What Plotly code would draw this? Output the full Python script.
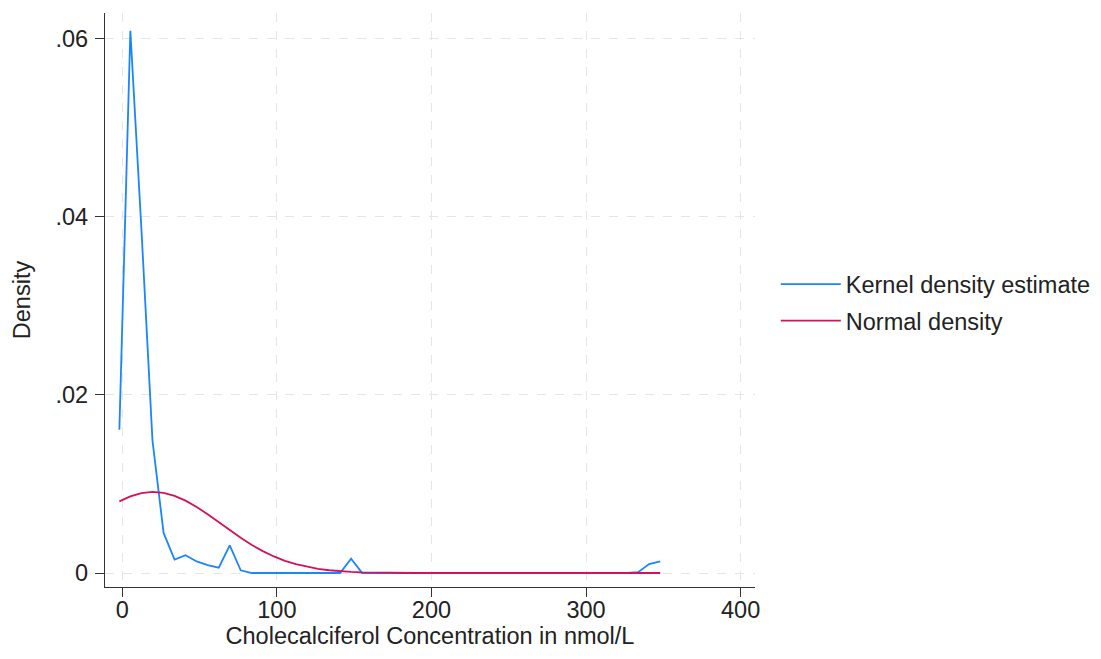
import plotly.graph_objects as go

# Evaluation grid (nmol/L)
x_grid = [-1.9, 5.2, 12.4, 19.5, 26.7, 33.8, 40.9, 48.1, 55.2, 62.4,
          69.5, 76.6, 83.8, 90.9, 98.1, 105.2, 112.3, 119.5, 126.6, 133.8,
          140.9, 148.0, 155.2, 162.3, 169.5, 176.6, 183.7, 190.9, 198.0, 205.2,
          212.3, 219.4, 226.6, 233.7, 240.9, 248.0, 255.1, 262.3, 269.4, 276.6,
          283.7, 290.8, 298.0, 305.1, 312.3, 319.4, 326.5, 333.7, 340.8, 348.0]

kde_density = [0.0161, 0.0609, 0.0385, 0.0149, 0.0045, 0.0015, 0.0020, 0.0013, 0.0009, 0.0006,
               0.0031, 0.0003, 0.0000, 0.0000, 0.0000, 0.0000, 0.0000, 0.0000, 0.0000, 0.0000,
               0.0000, 0.0016, 0.0000, 0.0000, 0.0000, 0.0000, 0.0000, 0.0000, 0.0000, 0.0000,
               0.0000, 0.0000, 0.0000, 0.0000, 0.0000, 0.0000, 0.0000, 0.0000, 0.0000, 0.0000,
               0.0000, 0.0000, 0.0000, 0.0000, 0.0000, 0.0000, 0.0000, 0.0001, 0.0010, 0.0013]

normal_density = [0.00804, 0.00860, 0.00897, 0.00911, 0.00900, 0.00867, 0.00813, 0.00742, 0.00660, 0.00570,
                  0.00481, 0.00395, 0.00315, 0.00246, 0.00186, 0.00137, 0.00099, 0.00069, 0.00047, 0.00031,
                  0.00020, 0.00013, 0.00008, 0.00005, 0.00003, 0.00002, 0.00001, 0.0, 0.0, 0.0,
                  0.0, 0.0, 0.0, 0.0, 0.0, 0.0, 0.0, 0.0, 0.0, 0.0,
                  0.0, 0.0, 0.0, 0.0, 0.0, 0.0, 0.0, 0.0, 0.0, 0.0]

series_names = ["Kernel density estimate", "Normal density"]
x_tick_vals = [0, 100, 200, 300, 400]
x_tick_text = ["0", "100", "200", "300", "400"]
y_tick_vals = [0, 0.02, 0.04, 0.06]
y_tick_text = ["0", ".02", ".04", ".06"]
x_title = "Cholecalciferol Concentration in nmol/L"
y_title = "Density"

FONT = "Liberation Sans, Arial, Helvetica, sans-serif"
FS = 23.5
TXT = "#222222"
GRID = "#e6e6e6"

fig = go.Figure()
fig.add_trace(go.Scatter(x=x_grid, y=kde_density, mode="lines", name=series_names[0],
                         legendgroup="kde",
                         line=dict(color="#1a85ff", width=1.8)))
fig.add_trace(go.Scatter(x=x_grid, y=normal_density, mode="lines", name=series_names[1],
                         legendgroup="norm",
                         line=dict(color="#d41159", width=1.8)))

# page body has an 8px default margin; figure is sized to fit the 1101x659 window
fig.update_layout(
    width=1093, height=651,
    margin=dict(l=97, r=346, t=5, b=72, autoexpand=False),
    paper_bgcolor="white", plot_bgcolor="white",
    font=dict(family=FONT, size=FS, color=TXT),
    showlegend=True,
    legend=dict(x=1.032, xanchor="left", y=0.495, yanchor="middle",
                font=dict(family=FONT, size=FS, color=TXT),
                bgcolor="rgba(0,0,0,0)", borderwidth=0, itemwidth=60,
                tracegroupgap=3),
)

fig.update_xaxes(
    range=[-11.2, 409.3], tickvals=x_tick_vals, ticktext=x_tick_text,
    automargin=False,
    showline=True, linecolor="#333333", linewidth=1.3,
    ticks="outside", ticklen=9, tickwidth=1.3, tickcolor="#333333",
    ticklabelstandoff=-7,
    showgrid=True, gridcolor=GRID, griddash="dash", gridwidth=1,
    zeroline=False, mirror=False,
    title=dict(text=x_title, standoff=2, font=dict(family=FONT, size=FS, color=TXT)),
    tickfont=dict(family=FONT, size=FS, color=TXT),
)
fig.update_yaxes(
    range=[-0.00157, 0.0629], tickvals=y_tick_vals, ticktext=y_tick_text,
    automargin=False,
    showline=True, linecolor="#333333", linewidth=1.3,
    ticks="outside", ticklen=9, tickwidth=1.3, tickcolor="#333333",
    ticklabelstandoff=2,
    showgrid=True, gridcolor=GRID, griddash="dash", gridwidth=1,
    zeroline=False, mirror=False,
    title=dict(text=y_title, standoff=18, font=dict(family=FONT, size=FS, color=TXT)),
    tickfont=dict(family=FONT, size=FS, color=TXT),
)

fig.write_html("out.html")
